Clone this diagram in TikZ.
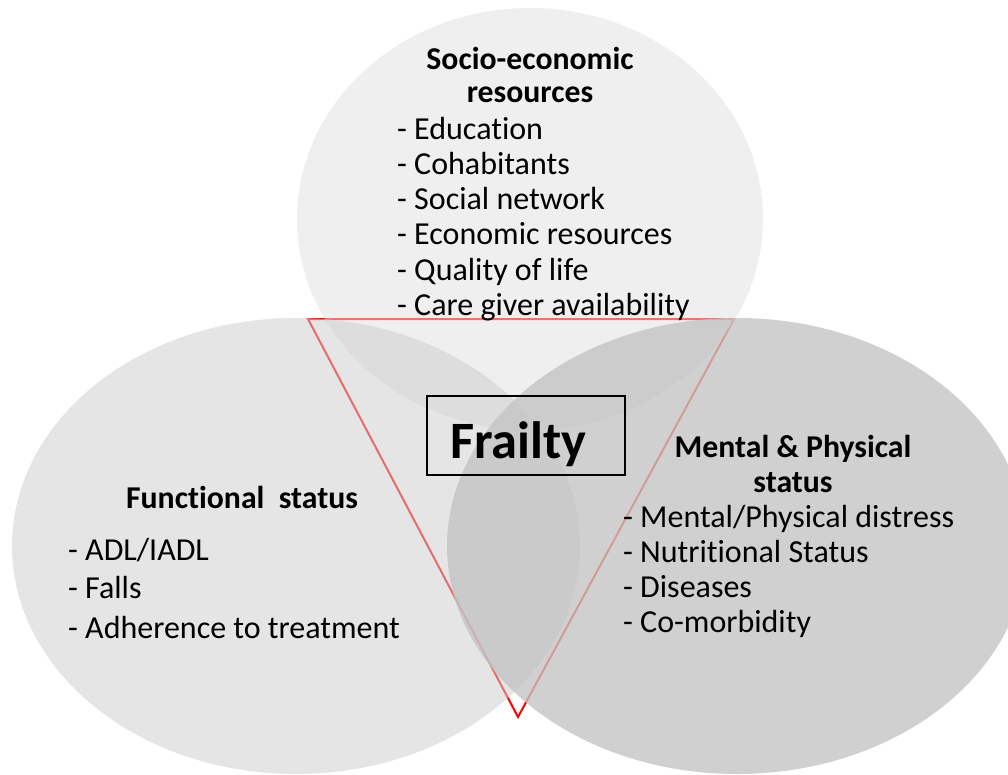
\documentclass[tikz,border=0pt]{standalone}
\usepackage{fontspec}
\setmainfont{Carlito}[Ligatures=NoCommon]
\definecolor{topc}{RGB}{224,224,224}
\definecolor{leftc}{RGB}{206,206,206}
\definecolor{rightc}{RGB}{196,196,196}
\begin{document}
\begin{tikzpicture}[x=1pt,y=-1pt,
  body/.style={font=\fontsize{32}{35}\selectfont, inner sep=0pt, anchor=base west},
  head/.style={font=\fontsize{31.75}{33}\selectfont\bfseries, inner sep=0pt, anchor=base},
  tri/.style={draw=red, line width=2pt, line join=miter},
  boxst/.style={draw=black, line width=1.5pt, minimum width=198pt, minimum height=79pt, inner sep=0pt}]
\useasboundingbox (0,0) rectangle (1008,775);
\clip (0,0) rectangle (1008,775);
% triangle (under the shapes)
\coordinate (t1) at (308,319);
\coordinate (t2) at (734,319);
\coordinate (t3) at (518,717);
\draw[tri] (t1) -- (t2) -- (t3) -- cycle;
% circles
\fill[topc, fill opacity=.5] (530,219) ellipse [x radius=233pt, y radius=211pt];
\fill[leftc, fill opacity=.53] (296,546) ellipse [x radius=284pt, y radius=228pt];
\fill[rightc, fill opacity=.8] (737,546) ellipse [x radius=290pt, y radius=228pt];
% Frailty box
\node[boxst] (fbox) at (526,435.5) {};
\node[font=\fontsize{52.5}{60}\selectfont\bfseries, inner sep=0pt, anchor=base west] (frailty) at (450,458) {Frailty};
% top block
\node[head] (sh1) at (530,70) {Socio-economic};
\node[head] (sh2) at (530,103) {resources};
\foreach \t [count=\i] in {Education, Cohabitants, Social network, Economic resources, Quality of life, Care giver availability}
  \node[body] (s\i) at (397,{140+35*(\i-1)}) {- \t};
% left block
\node[head] (fh) at (242,508) {Functional\ \ status};
\node[body] (f1) at (68,560) {- ADL/IADL};
\node[body] (f2) at (68,598) {- Falls};
\node[body] (f3) at (68,638) {- Adherence to treatment};
% right block
\node[head] (mh1) at (793,457) {Mental \& Physical};
\node[head] (mh2) at (793,492) {status};
\foreach \t [count=\i] in {Mental/Physical distress, Nutritional Status, Diseases, Co-morbidity}
  \node[body] (m\i) at (623,{527+35*(\i-1)}) {- \t};
\end{tikzpicture}
\end{document}
